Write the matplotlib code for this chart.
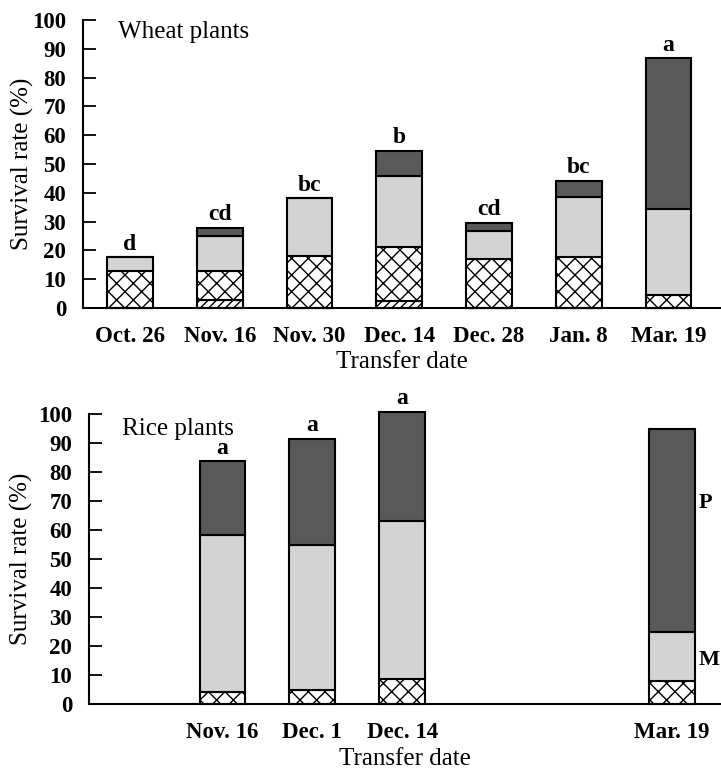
import matplotlib
matplotlib.use("Agg")
import matplotlib.pyplot as plt

# wheat: segment heights (%) from bottom to top
wheat_dates = ["Oct. 26", "Nov. 16", "Nov. 30", "Dec. 14", "Dec. 28", "Jan. 8", "Mar. 19"]
wheat_diag = [0, 2.8, 0, 2.3, 0, 0, 0]
wheat_cross = [13.0, 10.2, 18.2, 18.8, 16.9, 17.8, 4.5]
wheat_light = [4.6, 12.0, 19.9, 24.8, 9.8, 20.8, 29.9]
wheat_dark = [0, 2.9, 0, 8.6, 2.9, 5.5, 52.3]
wheat_letters = ["d", "cd", "bc", "b", "cd", "bc", "a"]

# rice
rice_dates = ["Nov. 16", "Dec. 1", "Dec. 14", "Mar. 19"]
rice_pos = [1, 2, 3, 6]
rice_cross = [4.3, 4.9, 8.6, 8.0]
rice_light = [54.1, 50.0, 54.6, 17.0]
rice_dark = [25.3, 36.5, 37.5, 69.8]
rice_letters = ["a", "a", "a", ""]

plt.rcParams["font.family"] = ["Liberation Serif", "DejaVu Serif"]
plt.rcParams["hatch.linewidth"] = 1.0

DARK = "#595959"
LIGHT = "#d3d3d3"
W = 0.51


def stack(ax, pos, layers):
    bottom = [0] * len(pos)
    for vals, face, hatch in layers:
        ax.bar(pos, vals, W, bottom=bottom, color=face, hatch=hatch,
               edgecolor="black", linewidth=1.5, clip_on=False)
        bottom = [b + v for b, v in zip(bottom, vals)]
    return bottom


def style(ax, ylab_x):
    ax.set_ylim(0, 100)
    ax.set_yticks(range(0, 101, 10))
    ax.spines["top"].set_visible(False)
    ax.spines["right"].set_visible(False)
    ax.spines["left"].set_linewidth(1.5)
    ax.spines["bottom"].set_linewidth(1.5)
    ax.tick_params(axis="y", direction="in", length=9, width=1.3, pad=12,
                   labelsize=16.5)
    ax.tick_params(axis="x", length=0, pad=13, labelsize=16.5)
    for t in ax.get_xticklabels() + ax.get_yticklabels():
        t.set_fontweight("bold")
    ax.set_ylabel("Survival rate (%)", fontsize=18)
    ax.yaxis.set_label_coords(ylab_x, 0.5)
    ax.set_xlabel("Transfer date", fontsize=18, labelpad=3)


fig = plt.figure(figsize=(7.21, 7.72), dpi=100)

ax1 = fig.add_axes([0.115, 0.601, 0.885, 0.373])
pos1 = list(range(len(wheat_dates)))
tops = stack(ax1, pos1, [(wheat_diag, "white", "////"),
                         (wheat_cross, "white", "xx"),
                         (wheat_light, LIGHT, None),
                         (wheat_dark, DARK, None)])
ax1.set_xlim(-0.524, 6.585)
ax1.set_xticks(pos1)
ax1.set_xticklabels(wheat_dates)
for p, t, l in zip(pos1, tops, wheat_letters):
    ax1.annotate(l, (p, t), xytext=(0, 2), textcoords="offset points",
                 ha="center", va="bottom", fontsize=17, fontweight="bold",
                 annotation_clip=False)
ax1.text(0.055, 0.96, "Wheat plants", transform=ax1.transAxes, fontsize=18,
         ha="left", va="center")
style(ax1, -0.077)

ax2 = fig.add_axes([0.123, 0.0877, 0.877, 0.376])
tops2 = stack(ax2, rice_pos, [(rice_cross, "white", "xx"),
                              (rice_light, LIGHT, None),
                              (rice_dark, DARK, None)])
ax2.set_xlim(-0.49, 6.55)
ax2.set_xticks(rice_pos)
ax2.set_xticklabels(rice_dates)
for p, t, l in zip(rice_pos, tops2, rice_letters):
    ax2.annotate(l, (p, t), xytext=(0, 2), textcoords="offset points",
                 ha="center", va="bottom", fontsize=17, fontweight="bold",
                 annotation_clip=False)
ax2.text(0.052, 0.95, "Rice plants", transform=ax2.transAxes, fontsize=18,
         ha="left", va="center")
ax2.text(6.3, 69.4, "P", fontsize=16, fontweight="bold", ha="left", va="center")
ax2.text(6.3, 15.3, "M", fontsize=16, fontweight="bold", ha="left", va="center")
style(ax2, -0.088)

fig.savefig("out.png", dpi=100)
